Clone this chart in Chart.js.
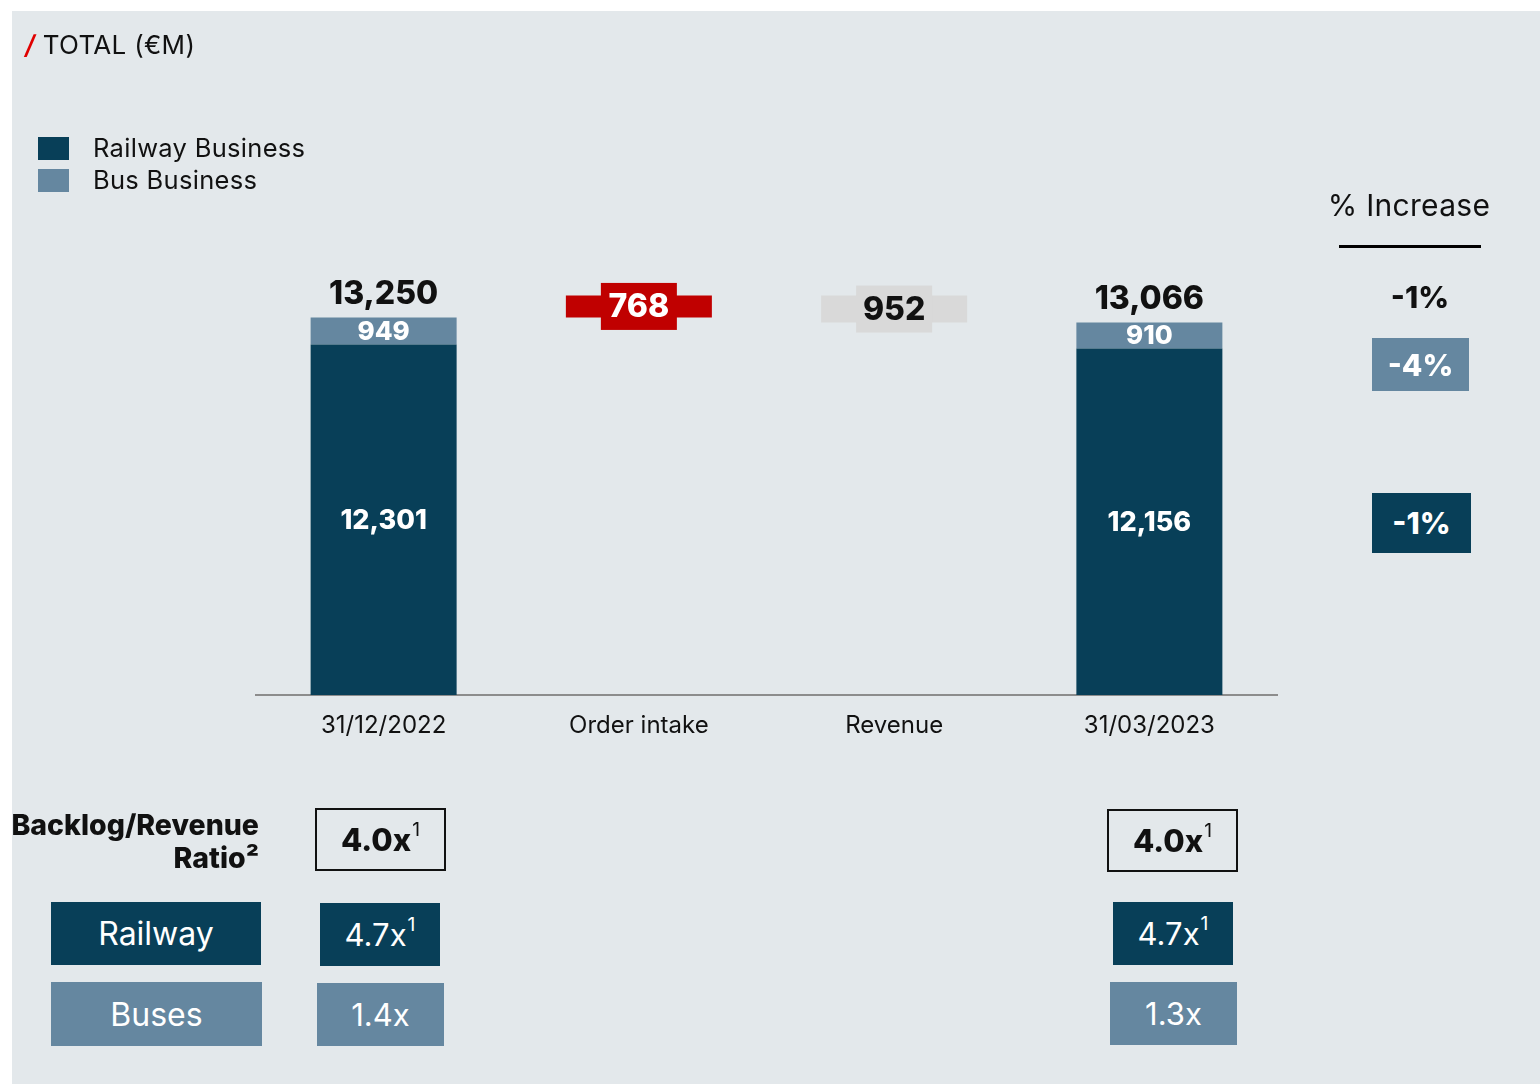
<!DOCTYPE html>
<html>
<head>
<meta charset="utf-8">
<script src="https://cdn.jsdelivr.net/npm/chart.js@4/dist/chart.umd.min.js"></script>
<style>
  html, body { margin: 0; padding: 0; background: #ffffff; }
  body { width: 1540px; height: 1084px; position: relative; overflow: hidden; font-family: Inter, "Noto Sans", sans-serif; color: #111; }
  #panel { position: absolute; left: 12px; top: 11px; width: 1528px; height: 1073px; background: #E3E8EB; }
  #wrap { position: absolute; left: 0; top: 0; width: 1540px; height: 1084px; }
  .abs { position: absolute; }
  .box { position: absolute; display: flex; align-items: center; justify-content: center; box-sizing: border-box; }
  .dark { background: #083F58; color: #fff; }
  .light { background: #6587A0; color: #fff; }
  sup { font-size: 0.62em; vertical-align: 0; position: relative; top: -0.55em; font-weight: 400; margin-left: 1px; }
</style>
</head>
<body>
<div id="panel"></div>
<div id="wrap"><canvas id="c"></canvas></div>

<div class="abs" style="left:25px; top:28px; font-size:26px; line-height:34px; letter-spacing:0.3px;"><span style="color:#E00000; font-weight:600; font-style:italic;">/</span> TOTAL (€M)</div>

<div class="abs" style="left:38px; top:137px; width:31px; height:23px; background:#083F58;"></div>
<div class="abs" style="left:38px; top:169px; width:31px; height:23px; background:#6587A0;"></div>
<div class="abs" style="left:93px; top:131px; font-size:25.5px; line-height:34px; letter-spacing:0.3px;">Railway Business</div>
<div class="abs" style="left:93px; top:163px; font-size:25.5px; line-height:34px; letter-spacing:0.3px;">Bus Business</div>

<div class="abs" style="left:1314px; top:185px; width:190px; text-align:center; font-size:30px; line-height:40px; letter-spacing:0.3px;">% Increase</div>
<div class="abs" style="left:1339px; top:245px; width:142px; height:3px; background:#000;"></div>
<div class="abs" style="left:1370px; top:279px; width:100px; text-align:center; font-size:30px; font-weight:800; line-height:36px;">-1%</div>
<div class="box light" style="left:1372px; top:338px; width:97px; height:53px; font-size:30px; font-weight:800;">-4%</div>
<div class="box dark" style="left:1372px; top:493px; width:99px; height:60px; font-size:30px; font-weight:800;">-1%</div>

<div class="abs" style="left:0px; top:808px; width:259px; text-align:right; font-size:28.5px; font-weight:800; line-height:33px;">Backlog/Revenue<br>Ratio²</div>
<div class="box" style="left:315px; top:808px; width:131px; height:63px; border:2px solid #111; font-size:31px; font-weight:800;">4.0x<sup>1</sup></div>
<div class="box" style="left:1107px; top:809px; width:131px; height:63px; border:2px solid #111; font-size:31px; font-weight:800;">4.0x<sup>1</sup></div>

<div class="box dark" style="left:51px; top:902px; width:210px; height:63px; font-size:32px;">Railway</div>
<div class="box dark" style="left:320px; top:903px; width:120px; height:63px; font-size:31px;">4.7x<sup>1</sup></div>
<div class="box dark" style="left:1113px; top:902px; width:120px; height:63px; font-size:31px;">4.7x<sup>1</sup></div>

<div class="box light" style="left:51px; top:982px; width:211px; height:64px; font-size:32px;">Buses</div>
<div class="box light" style="left:317px; top:983px; width:127px; height:63px; font-size:31px;">1.4x</div>
<div class="box light" style="left:1110px; top:982px; width:127px; height:63px; font-size:31px;">1.3x</div>

<script>
// ---- Data ----
const categories = ['31/12/2022', 'Order intake', 'Revenue', '31/03/2023'];
const railway = [12301, null, null, 12156];
const bus = [949, null, null, 910];
const orderIntake = 768;
const revenue = 952;

// ---- Derived floating ranges ----
const startTotal = railway[0] + bus[0];
const afterIntake = startTotal + orderIntake;
const endTotal = afterIntake - revenue;
const busRanges = railway.map((r, i) => r === null ? null : [r, r + bus[i]]);
const intakeRange = [null, [startTotal, afterIntake], null, null];
const revenueRange = [null, null, [endTotal, afterIntake], null];

const DARK = '#083F58', LIGHT = '#6587A0', RED = '#C00000', GREY = '#D9D9D9';
const FONT = 'Inter, "Noto Sans", sans-serif';
const fmt = v => v.toLocaleString('en-US');

const labelPlugin = {
  id: 'labels',
  afterDatasetsDraw(chart) {
    const ctx = chart.ctx;
    const y = chart.scales.y;
    ctx.save();
    ctx.textAlign = 'center';
    ctx.textBaseline = 'middle';
    railway.forEach((r, i) => {
      if (r === null) return;
      const bar = chart.getDatasetMeta(0).data[i];
      const x = bar.x;
      const total = r + bus[i];
      ctx.fillStyle = '#fff';
      ctx.font = '800 27px ' + FONT;
      ctx.fillText(fmt(r), x, (y.getPixelForValue(0) + y.getPixelForValue(r)) / 2 + 1);
      ctx.font = '800 26px ' + FONT;
      ctx.fillText(fmt(bus[i]), x, (y.getPixelForValue(r) + y.getPixelForValue(total)) / 2 + 1);
      ctx.fillStyle = '#111';
      ctx.font = '800 32px ' + FONT;
      ctx.fillText(fmt(total), x, y.getPixelForValue(total) - 23);
    });
    const changes = [
      { ds: 2, idx: 1, val: orderIntake, fill: RED, text: '#fff' },
      { ds: 3, idx: 2, val: revenue, fill: GREY, text: '#111' }
    ];
    changes.forEach(c => {
      const bar = chart.getDatasetMeta(c.ds).data[c.idx];
      const cy = (bar.y + bar.base) / 2;
      const w = 76, h = 47;
      ctx.fillStyle = c.fill;
      ctx.fillRect(bar.x - w / 2, cy - h / 2, w, h);
      ctx.fillStyle = c.text;
      ctx.font = '800 32px ' + FONT;
      ctx.fillText(fmt(c.val), bar.x, cy + 1);
    });
    ctx.restore();
  }
};

new Chart(document.getElementById('c'), {
  type: 'bar',
  data: {
    labels: categories,
    datasets: [
      { label: 'Railway Business', data: railway, backgroundColor: DARK },
      { label: 'Bus Business', data: busRanges, backgroundColor: LIGHT },
      { label: 'Order intake', data: intakeRange, backgroundColor: RED },
      { label: 'Revenue', data: revenueRange, backgroundColor: GREY }
    ]
  },
  options: {
    responsive: true,
    maintainAspectRatio: false,
    animation: false,
    categoryPercentage: 0.572,
    barPercentage: 1,
    layout: { padding: { top: 239, left: 256, right: 263, bottom: 0 } },
    plugins: { legend: { display: false }, tooltip: { enabled: false } },
    scales: {
      x: {
        stacked: true,
        grid: { display: true, color: 'rgba(0,0,0,0)', drawTicks: false },
        border: { display: true, color: '#8C8C8C', width: 2 },
        ticks: { color: '#111', font: { family: FONT, size: 24 }, padding: 16 },
        afterFit: s => { s.height = 389; }
      },
      y: {
        stacked: false,
        display: false,
        min: 0,
        max: 16000
      }
    }
  },
  plugins: [labelPlugin]
});
</script>
</body>
</html>
